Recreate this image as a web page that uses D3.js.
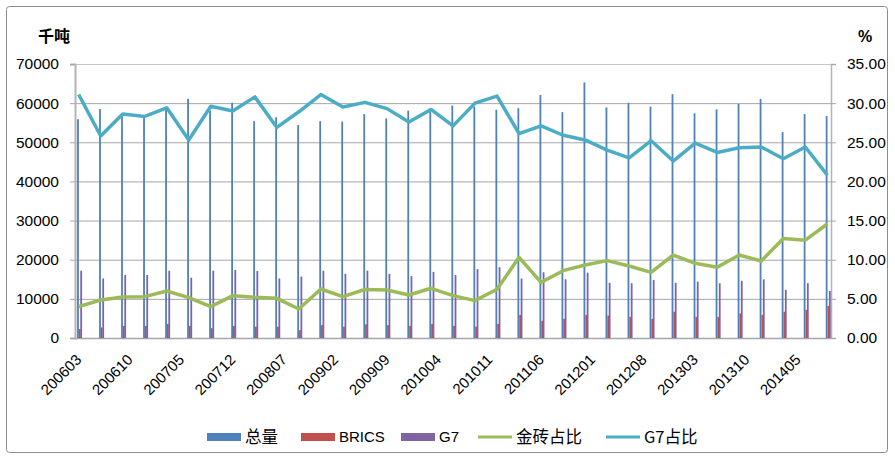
<!DOCTYPE html>
<html>
<head>
<meta charset="utf-8">
<script src="https://cdn.jsdelivr.net/npm/d3@7"></script>
<style>
  body { margin: 0; background: #fff; }
  text { font-family: "Liberation Sans", Arial, sans-serif; fill: #000; }
  .cjk { font-family: "Noto Sans CJK SC", sans-serif; }
</style>
</head>
<body>
<div id="chart"></div>
<script>
// quarterly periods (yyyymm)
const periods = ["200603","200606","200609","200612","200703","200706","200709","200712",
  "200803","200806","200809","200812","200903","200906","200909","200912",
  "201003","201006","201009","201012","201103","201106","201109","201112",
  "201203","201206","201209","201212","201303","201306","201309","201312",
  "201403","201406","201409"];
// 千吨
const total = [55900, 58500, 56500, 56700, 58600, 61100, 58100, 60100, 55400, 56400, 54400, 55400,
  55300, 57200, 56100, 58100, 57800, 59400, 59100, 58300, 58700, 62100, 57700, 65300,
  58900, 60100, 59100, 62300, 57400, 58400, 59800, 61100, 52600, 57200, 56700];
const brics = [2300, 2700, 3100, 3100, 3600, 3100, 2500, 3100, 2900, 2900, 2000, 3300,
  2900, 3500, 3300, 3100, 3600, 3100, 2900, 3600, 5900, 4400, 4900, 5900,
  5700, 5400, 4900, 6700, 5400, 5400, 6300, 5900, 6700, 7200, 8200];
const g7 = [17200, 15200, 16100, 16100, 17200, 15400, 17200, 17400, 17100, 15200, 15700, 17200,
  16400, 17200, 16400, 15800, 16900, 16100, 17600, 18100, 15200, 16800, 15000, 16700,
  14100, 14000, 14800, 14100, 14400, 14000, 14600, 15000, 12300, 14000, 12000];
// %
const bricsShare = [4.0, 4.85, 5.24, 5.28, 6.0, 5.15, 4.0, 5.41, 5.2, 5.07, 3.7, 6.26,
  5.28, 6.2, 6.13, 5.49, 6.35, 5.41, 4.77, 6.22, 10.3, 7.11, 8.6, 9.32,
  9.88, 9.2, 8.39, 10.6, 9.54, 9.03, 10.6, 9.84, 12.7, 12.5, 14.56];
const g7Share = [31.1, 25.8, 28.6, 28.3, 29.4, 25.3, 29.6, 29.0, 30.8, 26.9, 28.9, 31.1,
  29.5, 30.1, 29.3, 27.6, 29.2, 27.1, 30.0, 30.9, 26.1, 27.1, 25.9, 25.3,
  24.0, 23.0, 25.2, 22.6, 24.9, 23.7, 24.3, 24.4, 22.9, 24.4, 20.8];
const xTickLabels = ["200603","200610","200705","200712","200807","200902","200909","201004",
  "201011","201106","201201","201208","201303","201310","201405"];
const leftTicks = [0, 10000, 20000, 30000, 40000, 50000, 60000, 70000];
const rightTicks = [0, 5, 10, 15, 20, 25, 30, 35];

const width = 895, height = 459;
const plotL = 75, plotR = 831, plotT = 64, plotB = 338;

// month index since 2006-03
const monthIdx = (p) => (+p.slice(0, 4) - 2006) * 12 + (+p.slice(4) - 3);

const svg = d3.select("#chart").append("svg")
  .attr("width", width).attr("height", height);

svg.append("rect")
  .attr("x", 6.5).attr("y", 6.5).attr("width", 881).attr("height", 446)
  .attr("rx", 3).attr("fill", "#fff").attr("stroke", "#8c8c8c");

const x = d3.scaleLinear().domain([-0.5, 102.5]).range([plotL, plotR]);
const y = d3.scaleLinear().domain([0, 70000]).range([plotB, plotT]);
const y2 = d3.scaleLinear().domain([0, 35]).range([plotB, plotT]);

// gridlines
svg.append("g").selectAll("line").data(leftTicks).enter().append("line")
  .attr("x1", plotL).attr("x2", plotR)
  .attr("y1", (d) => y(d) + 0.5).attr("y2", (d) => y(d) + 0.5)
  .attr("stroke", (d) => (d === 70000 ? "#c8c8c8" : "#a6a6a6"))
  .attr("stroke-width", 1);

// left axis
const yAxis = d3.axisLeft(y).tickValues(leftTicks).tickSize(5).tickPadding(11)
  .tickFormat((d) => d);
const gl = svg.append("g").attr("transform", `translate(${plotL},0)`).call(yAxis);
gl.select(".domain").attr("stroke", "#b4b4b4").attr("stroke-width", 2);
gl.selectAll(".tick line").attr("stroke", "#a6a6a6");
gl.selectAll("text").style("font-size", "15.5px").attr("fill", "#000");

// right axis
const y2Axis = d3.axisRight(y2).tickValues(rightTicks).tickSize(5).tickPadding(11)
  .tickFormat(d3.format(".2f"));
const gr = svg.append("g").attr("transform", `translate(${plotR},0)`).call(y2Axis);
gr.select(".domain").attr("stroke", "#b4b4b4").attr("stroke-width", 1.5);
gr.selectAll(".tick line").attr("stroke", "#a6a6a6");
gr.selectAll("text").style("font-size", "15.5px").attr("fill", "#000");

// bottom axis line
svg.append("line").attr("x1", plotL).attr("x2", plotR)
  .attr("y1", plotB + 0.5).attr("y2", plotB + 0.5)
  .attr("stroke", "#a6a6a6").attr("stroke-width", 1.5);

// bars
const barW = 1.8;
const series = [
  { values: total, color: "#4f81bd", off: -1.6 },
  { values: brics, color: "#c0504d", off: 0.2 },
  { values: g7, color: "#8064a2", off: 1.6 },
];
series.forEach((s) => {
  svg.append("g").selectAll("rect").data(s.values).enter().append("rect")
    .attr("x", (d, i) => x(monthIdx(periods[i])) + s.off)
    .attr("width", barW)
    .attr("y", (d) => y(d))
    .attr("height", (d) => plotB - y(d))
    .attr("fill", s.color);
});

// lines
const line = d3.line()
  .x((d, i) => x(monthIdx(periods[i])))
  .y((d) => y2(d));
svg.append("path").datum(bricsShare).attr("d", line)
  .attr("fill", "none").attr("stroke", "#9bbb59").attr("stroke-width", 3.5)
  .attr("stroke-linejoin", "round");
svg.append("path").datum(g7Share).attr("d", line)
  .attr("fill", "none").attr("stroke", "#4bacc6").attr("stroke-width", 3.5)
  .attr("stroke-linejoin", "round");

// x tick labels
svg.append("g").selectAll("text").data(xTickLabels).enter().append("text")
  .attr("transform", (d) => `translate(${x(monthIdx(d))},357) rotate(-45)`)
  .attr("text-anchor", "end").attr("dy", "0.35em")
  .style("font-size", "15px")
  .text((d) => d);

// axis titles
svg.append("text").attr("class", "cjk").attr("x", 38).attr("y", 42)
  .style("font-size", "16px").style("font-weight", "bold").text("千吨");
svg.append("text").attr("x", 858).attr("y", 42)
  .style("font-size", "16px").style("font-weight", "bold").text("%");

// legend
const legendItems = [
  { label: "总量", color: "#4f81bd", type: "rect", x: 207, cjk: true },
  { label: "BRICS", color: "#c0504d", type: "rect", x: 301, cjk: false },
  { label: "G7", color: "#8064a2", type: "rect", x: 401, cjk: false },
  { label: "金砖占比", color: "#9bbb59", type: "line", x: 478, cjk: true },
  { label: "G7占比", color: "#4bacc6", type: "line", x: 606, cjk: true },
];
const ly = 437;
const lg = svg.append("g");
legendItems.forEach((d) => {
  if (d.type === "rect") {
    lg.append("rect").attr("x", d.x).attr("y", ly - 4).attr("width", 34).attr("height", 8)
      .attr("fill", d.color);
  } else {
    lg.append("line").attr("x1", d.x).attr("x2", d.x + 34).attr("y1", ly).attr("y2", ly)
      .attr("stroke", d.color).attr("stroke-width", 3);
  }
  lg.append("text").attr("class", d.cjk ? "cjk" : null)
    .attr("x", d.x + 38).attr("y", ly).attr("dy", "0.35em")
    .style("font-size", d.cjk ? "16.5px" : "15px").text(d.label);
});
</script>
</body>
</html>
